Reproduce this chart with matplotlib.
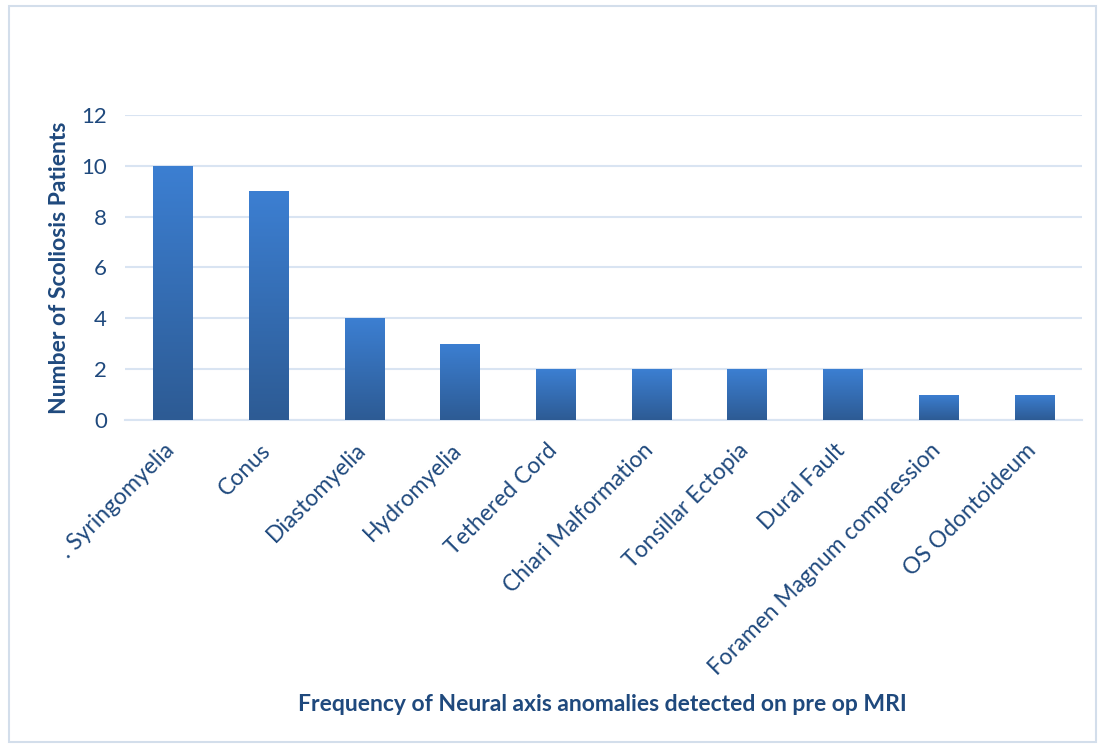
import numpy as np
import matplotlib
matplotlib.use("Agg")
import matplotlib.pyplot as plt
import matplotlib.transforms as mtransforms
from matplotlib.colors import LinearSegmentedColormap
from matplotlib.patches import Rectangle

categories = [". Syringomyelia", "Conus", "Diastomyelia", "Hydromyelia",
              "Tethered Cord", "Chiari Malformation", "Tonsillar Ectopia",
              "Dural Fault", "Foramen Magnum compression", "OS Odontoideum"]
counts = [10, 9, 4, 3, 2, 2, 2, 2, 1, 1]
yticks = [0, 2, 4, 6, 8, 10, 12]

text_color = "#1f497d"
grid_color = "#d9e4f2"
plt.rcParams["font.family"] = ["Lato", "DejaVu Sans"]

fig = plt.figure(figsize=(11.03, 7.48), dpi=100)
ax = fig.add_axes([0.1133, 0.4385, 0.8677, 0.4078])

x = np.arange(len(categories))
bars = ax.bar(x, counts, width=0.41, color="none", edgecolor="none", zorder=3)

# vertical gradient fill for every bar
cmap = LinearSegmentedColormap.from_list("grad", ["#2d5b94", "#3c7fd2"])
grad = np.linspace(0, 1, 256).reshape(-1, 1)
for b in bars:
    x0, y0 = b.get_x(), b.get_y()
    w, h = b.get_width(), b.get_height()
    im = ax.imshow(grad, cmap=cmap, origin="lower", aspect="auto",
                   extent=[x0, x0 + w, y0, y0 + h], zorder=3)
    im.set_clip_path(b)

ax.set_xlim(-0.5, len(categories) - 0.5)
ax.set_ylim(0, 12)
ax.set_yticks(yticks)
ax.set_yticklabels([str(t) for t in yticks], fontsize=16, color=text_color)
ax.set_xticks(x)
ax.set_xticklabels(categories, rotation=45, ha="right", rotation_mode="anchor",
                   fontsize=16.5, color=text_color)
ax.tick_params(axis="both", length=0)
ax.tick_params(axis="y", pad=13)
ax.tick_params(axis="x", pad=14)

# nudge rotated labels slightly left so their ends sit under the bars
shift = mtransforms.ScaledTranslation(-9 / 100, 0, fig.dpi_scale_trans)
for lbl in ax.get_xticklabels():
    lbl.set_transform(lbl.get_transform() + shift)

ax.grid(axis="y", color=grid_color, linewidth=1.5, zorder=0)
ax.set_axisbelow(True)
for s in ["top", "right", "left"]:
    ax.spines[s].set_visible(False)
ax.spines["bottom"].set_color(grid_color)
ax.spines["bottom"].set_linewidth(1.5)

ax.set_ylabel("Number of Scoliosis Patients", fontsize=16.5, fontweight="bold",
              color=text_color, labelpad=8)
fig.text(0.546, 0.058, "Frequency of Neural axis anomalies detected on pre op MRI",
         ha="center", va="center", fontsize=16.5, fontweight="bold", color=text_color)

# light border around the chart area
fig.patches.append(Rectangle((0.008, 0.008), 0.986, 0.984, transform=fig.transFigure,
                             fill=False, edgecolor="#d3deeb", linewidth=1.5))

fig.savefig("out.png", dpi=100)
